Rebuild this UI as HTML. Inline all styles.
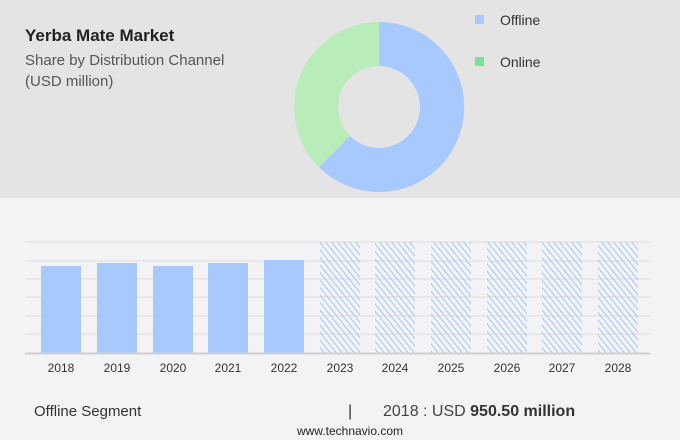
<!DOCTYPE html><html><head><style>
body{margin:0;width:680px;height:440px;background:#f3f3f5;font-family:"Liberation Sans",sans-serif;position:relative;overflow:hidden}
.top{position:absolute;left:0;top:0;width:680px;height:198px;background:#e4e4e4}
.t{position:absolute;white-space:nowrap}
</style></head><body>
<div class="top"></div>
<div class="t" style="left:25px;top:26px;font-size:17px;font-weight:bold;color:#222">Yerba Mate Market</div>
<div class="t" style="left:25px;top:52px;font-size:15px;color:#555">Share by Distribution Channel</div>
<div class="t" style="left:25px;top:73px;font-size:15px;color:#555">(USD million)</div>
<svg width="680" height="440" style="position:absolute;left:0;top:0">
<defs><pattern id="h" width="6" height="7.5" patternUnits="userSpaceOnUse"><path d="M-1,-1.25 L7,8.75 M5,-1.25 L7,1.25 M-1,6.25 L1,8.75" stroke="#a9c8f5" stroke-width="1.1" fill="none"/></pattern></defs>
<path d="M379,22 A85,85 0 1 1 319,167 L350,136 A41,41 0 1 0 379,66 Z" fill="#a8c9fd"/>
<path d="M319,167 A85,85 0 0 1 379,22 L379,66 A41,41 0 0 0 350,136 Z" fill="#b8ecb8"/>
<rect x="475" y="15" width="9" height="9" fill="#a8c9fd"/><rect x="475" y="57" width="9" height="9" fill="#79e29a"/>
<text x="500" y="25" font-size="14" fill="#333">Offline</text>
<text x="500" y="67" font-size="14" fill="#333">Online</text>
<g stroke="#dcdcdc" stroke-width="1">
<line x1="25" x2="650" y1="242" y2="242"/><line x1="25" x2="650" y1="261" y2="261"/><line x1="25" x2="650" y1="279" y2="279"/><line x1="25" x2="650" y1="297" y2="297"/><line x1="25" x2="650" y1="316" y2="316"/><line x1="25" x2="650" y1="334" y2="334"/></g>
<g fill="#a8c9fd"><rect x="41" y="266" width="40" height="87"/><rect x="97" y="263" width="40" height="90"/><rect x="153" y="266" width="40" height="87"/><rect x="208" y="263" width="40" height="90"/><rect x="264" y="260" width="40" height="93"/></g>
<g fill="url(#h)"><rect x="320" y="242" width="40" height="111"/><rect x="375" y="242" width="40" height="111"/><rect x="431" y="242" width="40" height="111"/><rect x="487" y="242" width="40" height="111"/><rect x="542" y="242" width="40" height="111"/><rect x="598" y="242" width="40" height="111"/></g>
<line x1="25" x2="650" y1="353.5" y2="353.5" stroke="#d0d0d0" stroke-width="2"/>
<g font-size="12" fill="#333" text-anchor="middle">
<text x="61" y="372">2018</text><text x="117" y="372">2019</text><text x="173" y="372">2020</text><text x="228" y="372">2021</text><text x="284" y="372">2022</text><text x="340" y="372">2023</text><text x="395" y="372">2024</text><text x="451" y="372">2025</text><text x="507" y="372">2026</text><text x="562" y="372">2027</text><text x="618" y="372">2028</text></g>
<text x="34" y="416" font-size="15" fill="#333">Offline Segment</text>
<text x="348" y="416" font-size="16" fill="#333">|</text>
<text x="383" y="416" font-size="16" fill="#444">2018 : USD <tspan font-weight="bold" fill="#333">950.50 million</tspan></text>
<text x="350" y="435" font-size="12" fill="#222" text-anchor="middle">www.technavio.com</text>
</svg>
</body></html>
